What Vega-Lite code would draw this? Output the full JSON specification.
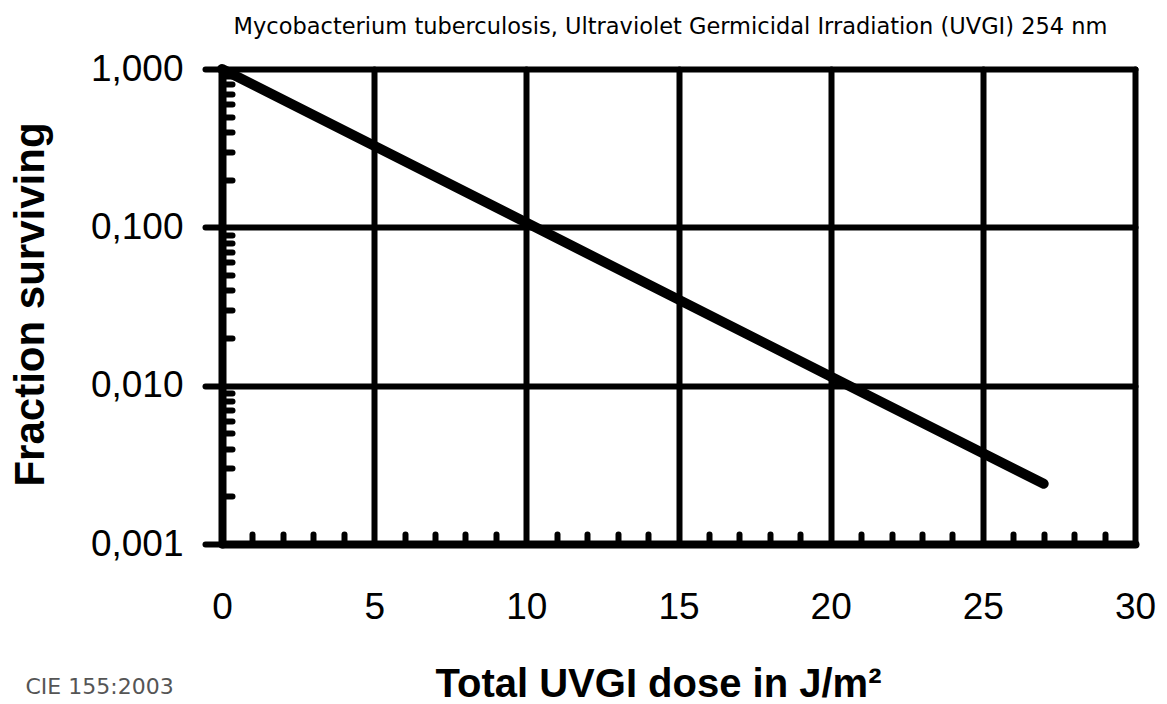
{
  "$schema": "https://vega.github.io/schema/vega-lite/v6.json",
  "width": 913,
  "height": 475,
  "autosize": "none",
  "padding": {"left": 222, "top": 69, "right": 32, "bottom": 160},
  "background": "white",
  "title": {
    "text": "Mycobacterium tuberculosis, Ultraviolet Germicidal Irradiation (UVGI) 254 nm",
    "font": "DejaVu Sans",
    "fontSize": 22.5,
    "fontWeight": "normal",
    "color": "black",
    "anchor": "middle",
    "frame": "group",
    "offset": 11,
    "dx": -8
  },
  "data": {
    "values": [
      {"dose": 0, "fraction": 1},
      {"dose": 10.3, "fraction": 0.1},
      {"dose": 20.6, "fraction": 0.01},
      {"dose": 27, "fraction": 0.0024}
    ]
  },
  "config": {"view": {"stroke": null}},
  "layer": [
    {
      "mark": {"type": "line", "color": "black", "strokeWidth": 10, "strokeCap": "round", "clip": false},
      "encoding": {
        "x": {
          "field": "dose",
          "type": "quantitative",
          "scale": {"domain": [0, 30], "nice": false, "zero": false},
          "axis": {
            "orient": "bottom",
            "values": [0, 5, 10, 15, 20, 25, 30],
            "grid": true,
            "gridColor": "black",
            "gridWidth": 6,
            "gridOpacity": 1,
            "gridCap": "round",
            "ticks": false,
            "tickSize": 0,
            "domain": true,
            "domainColor": "black",
            "domainWidth": 8,
            "domainCap": "round",
            "labelFont": "Liberation Sans",
            "labelFontSize": 37,
            "labelColor": "black",
            "labelBaseline": "alphabetic",
            "labelPadding": 74,
            "labelFlush": false,
            "title": "Total UVGI dose in J/m²",
            "titleFont": "Liberation Sans",
            "titleFontSize": 40,
            "titleFontWeight": "bold",
            "titleColor": "black",
            "titleBaseline": "alphabetic",
            "titleAlign": "center",
            "titleX": 436,
            "titleY": 152
          }
        },
        "y": {
          "field": "fraction",
          "type": "quantitative",
          "scale": {"type": "log", "domain": [0.001, 1], "nice": false},
          "axis": {
            "orient": "left",
            "values": [0.001, 0.01, 0.1, 1],
            "grid": true,
            "gridColor": "black",
            "gridWidth": 6,
            "gridOpacity": 1,
            "gridCap": "round",
            "ticks": true,
            "tickSize": 17,
            "tickWidth": 6,
            "tickColor": "black",
            "tickCap": "round",
            "domain": true,
            "domainColor": "black",
            "domainWidth": 8,
            "domainCap": "round",
            "labelFont": "Liberation Sans",
            "labelFontSize": 37,
            "labelColor": "black",
            "labelPadding": 22,
            "labelFlush": false,
            "labelExpr": "replace(format(datum.value, '.3f'), '.', ',')",
            "title": "Fraction surviving",
            "titleFont": "Liberation Sans",
            "titleFontSize": 42,
            "titleFontWeight": "bold",
            "titleColor": "black",
            "titleAngle": -90,
            "titleBaseline": "alphabetic",
            "titleAlign": "center",
            "titleX": -179,
            "titleY": 235
          }
        }
      }
    },
    {
      "mark": {"type": "line", "opacity": 0},
      "encoding": {
        "x": {
          "field": "dose",
          "type": "quantitative",
          "axis": {
            "orient": "bottom",
            "values": [1, 2, 3, 4, 6, 7, 8, 9, 11, 12, 13, 14, 16, 17, 18, 19, 21, 22, 23, 24, 26, 27, 28, 29],
            "grid": false,
            "domain": false,
            "labels": false,
            "ticks": true,
            "tickSize": -10,
            "tickWidth": 6,
            "tickColor": "black",
            "tickCap": "round",
            "title": "CIE 155:2003",
            "titleFont": "DejaVu Sans",
            "titleFontSize": 22,
            "titleFontWeight": "normal",
            "titleColor": "#555555",
            "titleAlign": "left",
            "titleBaseline": "alphabetic",
            "titleX": -197,
            "titleY": 149
          }
        },
        "y": {
          "field": "fraction",
          "type": "quantitative",
          "axis": {
            "orient": "left",
            "values": [0.002, 0.003, 0.004, 0.005, 0.006, 0.007, 0.008, 0.009, 0.02, 0.03, 0.04, 0.05, 0.06, 0.07, 0.08, 0.09, 0.2, 0.3, 0.4, 0.5, 0.6, 0.7, 0.8, 0.9],
            "grid": false,
            "domain": false,
            "labels": false,
            "ticks": true,
            "tickSize": -10,
            "tickWidth": 6,
            "tickColor": "black",
            "tickCap": "round",
            "title": null
          }
        }
      }
    }
  ],
  "resolve": {"axis": {"x": "independent", "y": "independent"}}
}
